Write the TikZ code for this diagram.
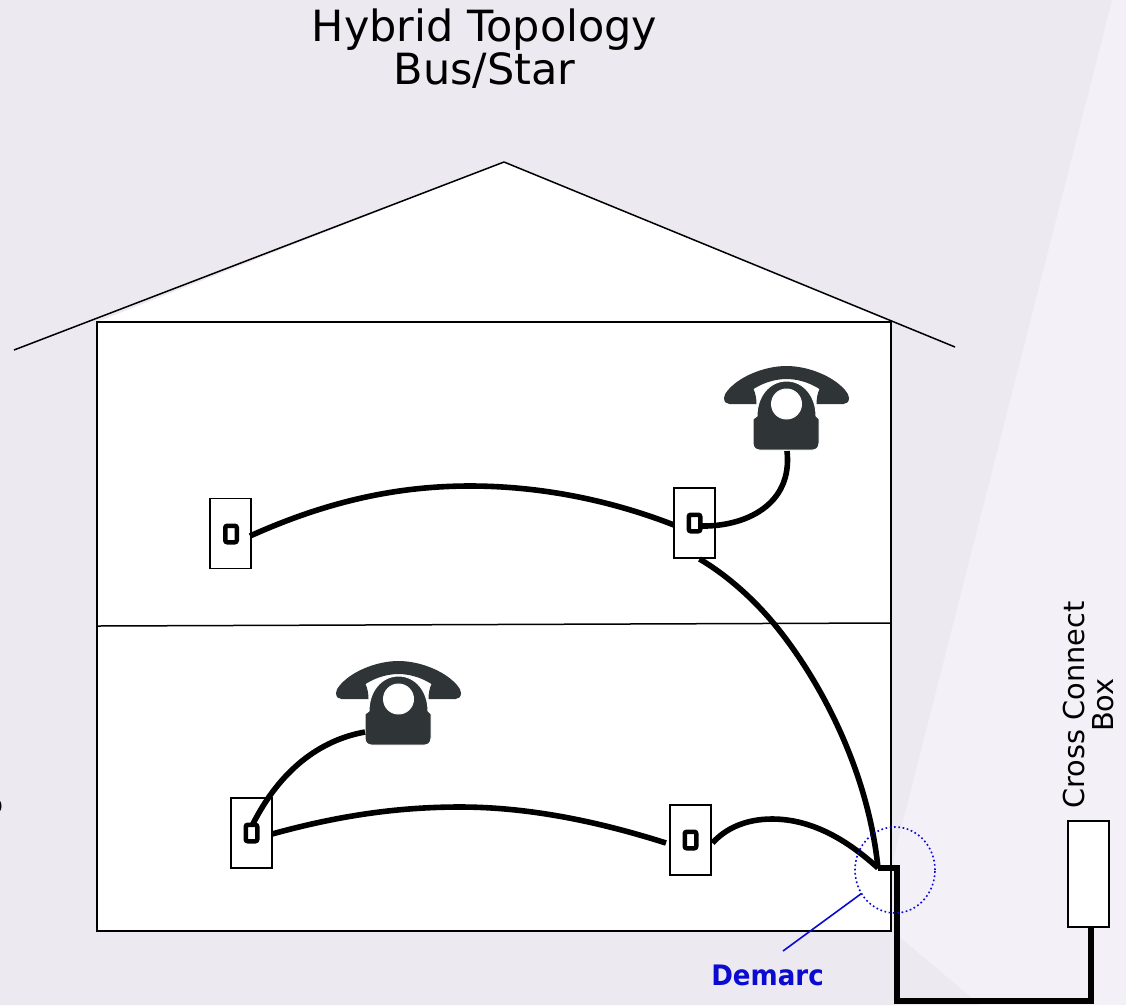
\documentclass[tikz,border=0pt]{standalone}
\usepackage{fontspec}
\usetikzlibrary{shapes.geometric}
\setmainfont{DejaVu Sans}
\definecolor{bgdark}{HTML}{EDE9F1}
\definecolor{bglight}{HTML}{F4F0F7}
\definecolor{phonecol}{HTML}{2F3537}
\definecolor{demarcblue}{HTML}{0A0AD0}
\tikzset{
  plate/.style={draw=black,fill=white,line width=1.5pt,minimum width=41pt,minimum height=70pt,inner sep=0pt,outer sep=0pt},
  jack/.style={draw=black,line width=4.5pt,rounded corners=2pt,minimum width=11.5pt,minimum height=16.5pt,inner sep=0pt,outer sep=0pt},
  wire/.style={draw=black,line width=5.6pt},
  thinline/.style={draw=black,line width=1.5pt},
  phone/.pic={
    \fill[phonecol] (-57,0) -- (-30,0) .. controls (-30,-5) and (-31,-11) .. (-33,-15)
      .. controls (-22,-22) and (-10,-25) .. (0,-25)
      .. controls (10,-25) and (22,-22) .. (33,-15)
      .. controls (31,-11) and (30,-5) .. (30,0) -- (57,0)
      .. controls (60,0) and (62.5,-2) .. (62.5,-6)
      .. controls (62.5,-11) and (56,-17) .. (51,-21)
      .. controls (38,-31) and (18,-38) .. (0,-38)
      .. controls (-18,-38) and (-38,-31) .. (-51,-21)
      .. controls (-56,-17) and (-62.5,-11) .. (-62.5,-6)
      .. controls (-62.5,-2) and (-60,0) .. (-57,0) -- cycle;
    \path[draw=white,line width=1pt,fill=phonecol,even odd rule]
      (-29.5,12) .. controls (-29.5,-8) and (-17,-23) .. (0,-23)
      .. controls (17,-23) and (29.5,-8) .. (29.5,12)
      -- (32.5,15) -- (32.5,39) .. controls (32.5,43.5) and (30,46) .. (26,46)
      -- (-27,46) .. controls (-31,46) and (-33.5,43.5) .. (-33.5,39)
      -- (-33.5,15) -- cycle
      (15,0) arc[start angle=0,end angle=360,radius=15];
  }
}
\begin{document}
\begin{tikzpicture}[x=1pt,y=-1pt]
\useasboundingbox (0,0) rectangle (1126,1005);
% background
\fill[bglight] (0,0) rectangle (1126,1005);
\fill[bgdark] (0,0) -- (1112,0) -- (893,860) -- (897,935) -- (980,1005) -- (0,1005) -- cycle;
\fill[black] (0,801) .. controls (2,803) and (2,809) .. (0,811) -- cycle;
% title
\node[font=\fontsize{43}{43}\selectfont,align=center,inner sep=0pt] (title) at (484.5,49) {Hybrid Topology\\Bus/Star};
% house
\fill[white] (97,322) -- (504,162) -- (891,322) -- cycle;
\draw[thinline,line join=round] (14,350) -- (504,162) -- (955,347);
\node[draw=black,fill=white,line width=1.5pt,inner sep=0pt,outer sep=0pt,minimum width=794pt,minimum height=609pt] (house) at (494,626.5) {};
\coordinate (floorL) at (97,626);
\coordinate (floorR) at (891,623);
\draw[thinline] (floorL) -- (floorR);
% plates
\node[plate] (plateA) at (230.5,533.5) {};
\node[plate] (plateB) at (694.5,523) {};
\node[plate] (plateC) at (251.5,833) {};
\node[plate] (plateD) at (690.5,840) {};
\node[jack] (jackA) at (231,534) {};
\node[jack] (jackB) at (694.5,523) {};
\node[jack] (jackC) at (251.5,833) {};
\node[jack] (jackD) at (690.5,840) {};
% cross connect box
\node[draw=black,fill=white,line width=1.5pt,minimum width=41pt,minimum height=106pt,inner sep=0pt,outer sep=0pt] (ccbox) at (1088.5,874) {};
\node[rotate=90,font=\fontsize{28.8}{29}\selectfont,align=center,inner sep=0pt] (cclabel) at (1088,705) {Cross Connect\\Box};
% phones
\pic (phoneup) at (786.5,404) {phone};
\pic (phonedown) at (398.5,699) {phone};
\coordinate (phoneupPort) at (787,451);
\coordinate (phonedownPort) at (365,732);
\coordinate (demarcPt) at (878,868);
\coordinate (cornerA) at (897,868);
\coordinate (cornerB) at (897,1001);
\coordinate (cornerC) at (1091,1001);
\coordinate (peakUp) at (470,486);
\coordinate (peakLow) at (460,807);
\coordinate (peakD) at (772,819);
\coordinate (floorCross) at (775,625);
% wires
\draw[wire] (plateA.east) ++(-1,2.5) .. controls (330,500) and (400,486) .. (peakUp) .. controls (540,486) and (610,500) .. ([yshift=-2pt]plateB.west);
\draw[wire] (jackB.east) ++(0,3) .. controls (745,527) and (793,505) .. (phoneupPort);
\draw[wire] (plateB.south) ++(5,1) .. controls (725,574) and (752,597) .. (floorCross) .. controls (820,680) and (868,770) .. (demarcPt);
\draw[wire] (plateC.east) ++(0,1) .. controls (330,818) and (390,807) .. (peakLow) .. controls (530,807) and (600,822) .. ([yshift=-3pt,xshift=-4pt]plateD.west);
\draw[wire] (jackC.north) ++(1,0) .. controls (280,770) and (320,740) .. (phonedownPort);
\draw[wire] ([xshift=1.5pt,yshift=-3pt]plateD.east) .. controls (725,829) and (745,819) .. (peakD) .. controls (810,819) and (845,838) .. (demarcPt);
\draw[wire,line width=6.8pt,line join=miter] (demarcPt) -- (cornerA) -- (cornerB) -- (cornerC) -- (ccbox.south -| cornerC);
% demarc
\node[draw=demarcblue,dash pattern=on 1.7pt off 2.6pt,line width=1.6pt,ellipse,minimum width=80pt,minimum height=86pt,inner sep=0pt,outer sep=0pt] (demarcCircle) at (895,870) {};
\node[text=demarcblue,font=\fontsize{28.2}{28.2}\selectfont\bfseries,inner sep=0pt] (demarcLabel) at (767.5,975) {\scalebox{0.925}[1]{Demarc}};
\coordinate (leaderEnd) at (783,951);
\draw[demarcblue,line width=1.6pt] (demarcCircle.215) -- (leaderEnd);
\end{tikzpicture}
\end{document}
